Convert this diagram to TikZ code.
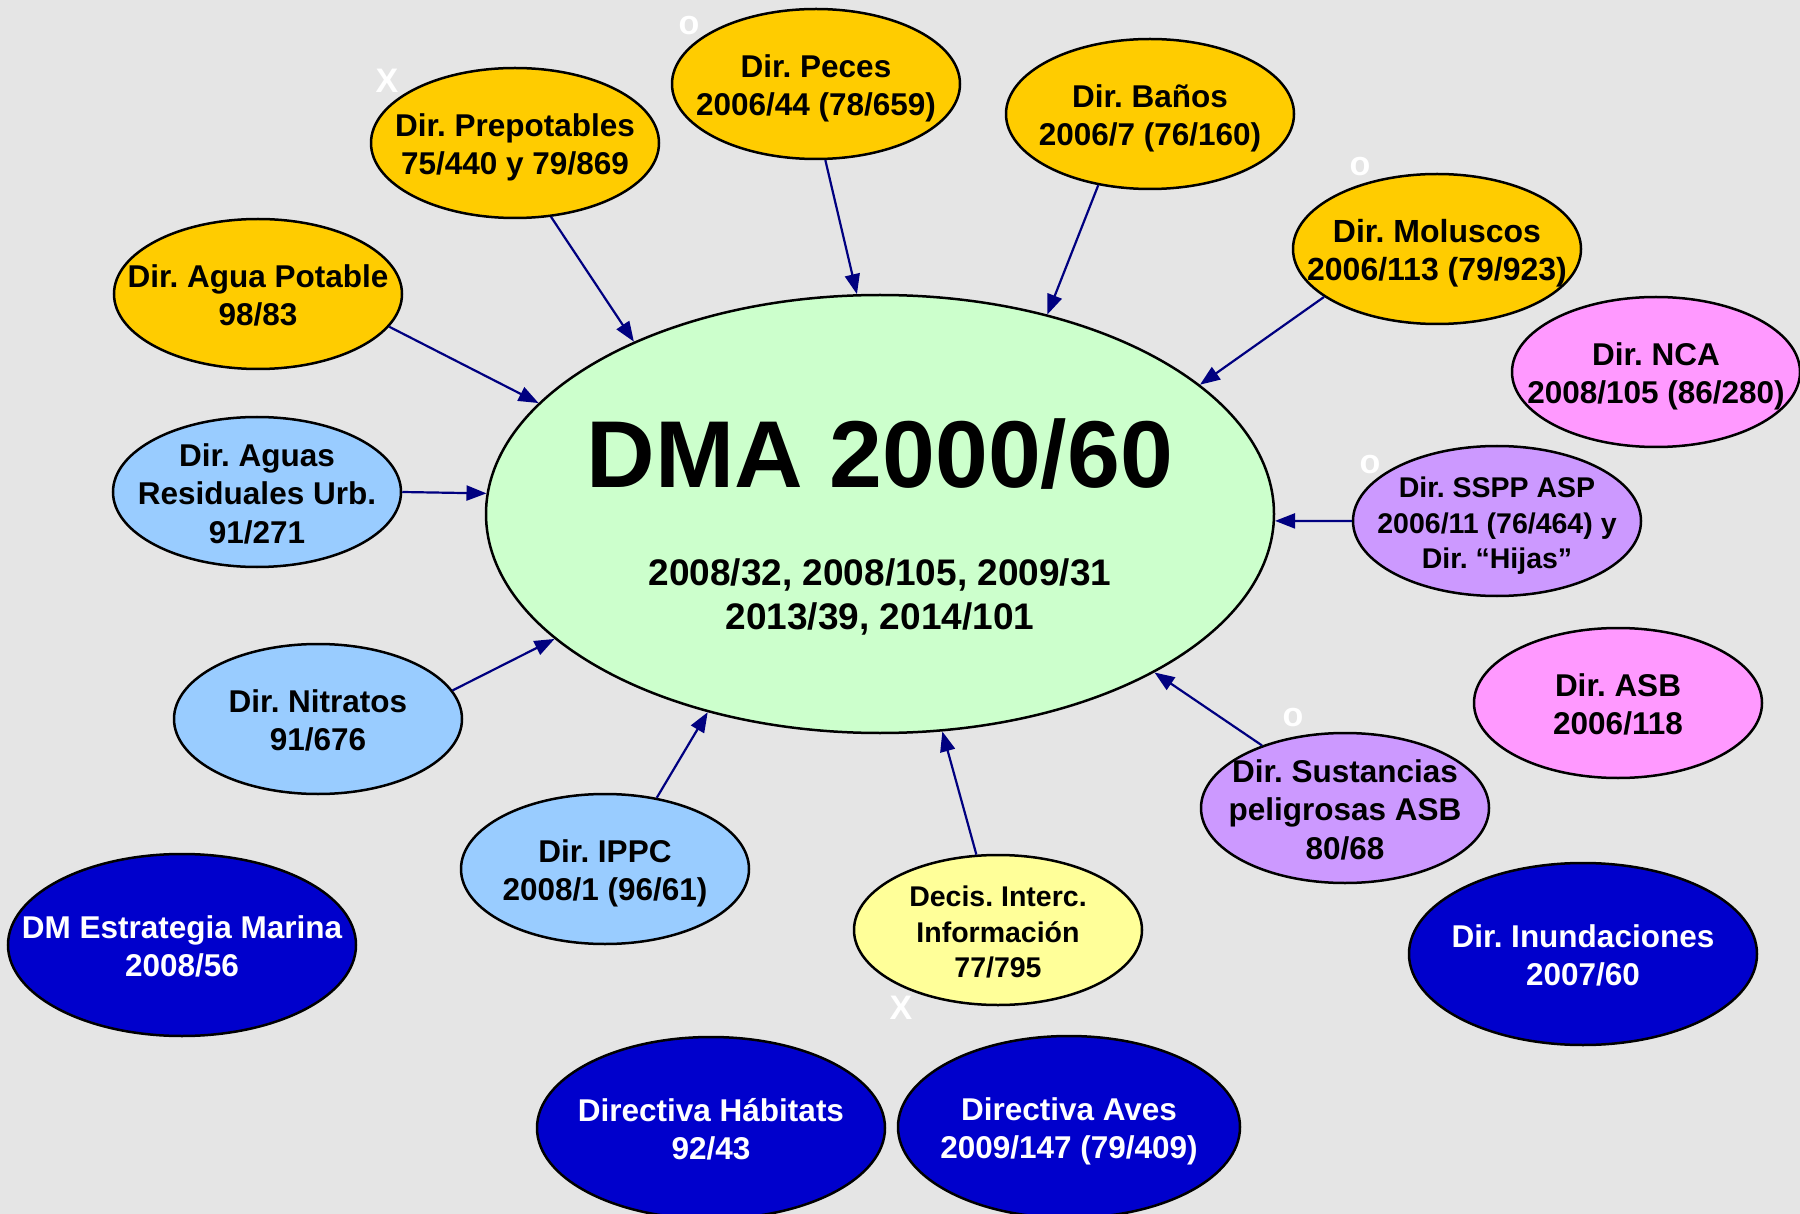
\documentclass[tikz,border=0pt]{standalone}
\usepackage{fontspec}
\setmainfont{Liberation Sans}
\usetikzlibrary{shapes.geometric,arrows.meta}
\frenchspacing
\definecolor{bgc}{RGB}{229,229,229}
\definecolor{gold}{RGB}{255,204,0}
\definecolor{skyb}{RGB}{153,204,255}
\definecolor{pinkc}{RGB}{255,153,255}
\definecolor{lav}{RGB}{204,153,255}
\definecolor{paley}{RGB}{255,255,153}
\definecolor{navyf}{RGB}{0,0,204}
\definecolor{mint}{RGB}{204,255,204}
\definecolor{arr}{RGB}{0,0,128}
\newlength\ctshift
\newcommand\ctext[1]{\frenchspacing\setbox0=\hbox{\begin{tabular}{@{}c@{}}#1\end{tabular}}%
  \setlength\ctshift{\dimexpr(\dp0-\ht0)/2-5pt\relax}%
  \makebox[0pt]{\raisebox{\ctshift}[0pt][0pt]{\box0}}}
\begin{document}
\begin{tikzpicture}[x=1pt,y=-1pt,
  ell/.style={ellipse, draw=black, line width=2.5pt, inner sep=0pt,
    minimum width=288pt, minimum height=150pt,
    font=\fontsize{31.5}{38.5}\selectfont\bfseries},
  smallt/.style={font=\fontsize{28.5}{35.5}\selectfont\bfseries},
  bigell/.style={ell, minimum width=348pt, minimum height=182pt, fill=navyf, text=white},
  conn/.style={draw=arr, line width=2.2pt, -{Triangle[length=20pt,width=15pt]}},
  markw/.style={text=white, font=\fontsize{34}{34}\selectfont\bfseries, inner sep=0pt}]
\useasboundingbox (0,0) rectangle (1800,1214);
\fill[bgc] (0,0) rectangle (1800,1214);

% white marks
\node[markw] (m1) at (387,81) {X};
\node[markw] (m2) at (689,26) {o};
\node[markw] (m3) at (1360,167) {o};
\node[markw] (m4) at (1370,465) {o};
\node[markw] (m5) at (1293,718) {o};
\node[markw] (m6) at (901,1008) {X};

% central node
\node[ell, fill=mint, minimum width=788pt, minimum height=438pt] (dma) at (880,514) {};
\node[anchor=base, inner sep=0pt, font=\fontsize{95}{95}\selectfont\bfseries] (dmatitle) at (880,488) {DMA 2000/60};
\node[anchor=base, inner sep=0pt, font=\fontsize{37}{44}\selectfont\bfseries] (dmasub1) at (880,585) {2008/32, 2008/105, 2009/31};
\node[anchor=base, inner sep=0pt, font=\fontsize{37}{44}\selectfont\bfseries] (dmasub2) at (880,629) {2013/39, 2014/101};

% surrounding nodes
\node[ell, fill=gold] (prepot) at (515,143) {\ctext{Dir. Prepotables\\75/440 y 79/869}};
\node[ell, fill=gold] (peces) at (816,84) {\ctext{Dir. Peces\\2006/44 (78/659)}};
\node[ell, fill=gold] (banos) at (1150,114) {\ctext{Dir. Baños\\2006/7 (76/160)}};
\node[ell, fill=gold, font=\fontsize{32}{38.5}\selectfont\bfseries] (molus) at (1437,249) {\ctext{Dir. Moluscos\\2006/113 (79/923)}};
\node[ell, fill=pinkc] (nca) at (1656,372) {\ctext{Dir. NCA\\2008/105 (86/280)}};
\node[ell, fill=gold] (agua) at (258,294) {\ctext{Dir. Agua Potable\\98/83}};
\node[ell, fill=skyb] (resid) at (257,492) {\ctext{Dir. Aguas\\Residuales Urb.\\91/271}};
\node[ell, fill=lav, smallt] (sspp) at (1497,521) {\ctext{Dir. SSPP ASP\\2006/11 (76/464) y\\Dir. “Hijas”}};
\node[ell, fill=pinkc] (asb) at (1618,703) {\ctext{Dir. ASB\\2006/118}};
\node[ell, fill=skyb] (nitr) at (318,719) {\ctext{Dir. Nitratos\\91/676}};
\node[ell, fill=lav] (sust) at (1345,808) {\ctext{Dir. Sustancias\\peligrosas ASB\\80/68}};
\node[ell, fill=skyb] (ippc) at (605,869) {\ctext{Dir. IPPC\\2008/1 (96/61)}};
\node[ell, fill=paley, smallt] (decis) at (998,930) {\ctext{Decis. Interc.\\Información\\77/795}};
\node[bigell] (dmest) at (182,945) {\ctext{DM Estrategia Marina\\2008/56}};
\node[bigell] (inund) at (1583,954) {\ctext{Dir. Inundaciones\\2007/60}};
\node[bigell] (habit) at (711,1128) {\ctext{Directiva Hábitats\\92/43}};
\node[bigell, minimum width=342pt] (aves) at (1069,1127) {\ctext{Directiva Aves\\2009/147 (79/409)}};

% connectors
\draw[conn] (prepot.296) -- (dma.145.4);
\draw[conn] (peces.277) -- (dma.96.5);
\draw[conn] (banos.234) -- (dma.50);
\draw[conn] (molus.203) -- (dma.22);
\draw[conn] (agua.346) -- (dma.162.7);
\draw[conn] (resid.0) -- (dma.177.3);
\draw[conn] (sspp.180) -- (dma.-1);
\draw[conn] (nitr.12.2) -- (dma.201.6);
\draw[conn] (ippc.54.2) -- (dma.229);
\draw[conn] (decis.106) -- (dma.286.9);
\draw[conn] (sust.143.7) -- (dma.330.1);
\end{tikzpicture}
\end{document}
